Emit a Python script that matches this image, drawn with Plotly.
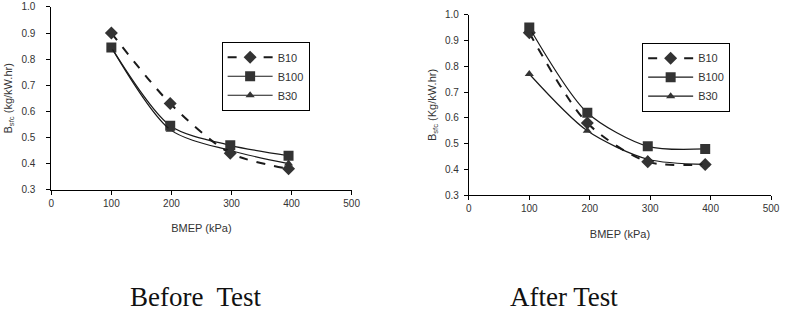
import plotly.graph_objects as go

# ---- data ----
bmep_before = [100, 198, 298, 395]
before_b10 = [0.90, 0.63, 0.44, 0.38]
before_b100 = [0.845, 0.545, 0.47, 0.43]
before_b30 = [0.845, 0.53, 0.45, 0.40]

bmep_after = [100, 196, 296, 391]
after_b10 = [0.93, 0.58, 0.43, 0.42]
after_b100 = [0.95, 0.62, 0.49, 0.48]
after_b30 = [0.77, 0.55, 0.44, 0.42]

x_ticks = [0, 100, 200, 300, 400, 500]
y_ticks = [0.3, 0.4, 0.5, 0.6, 0.7, 0.8, 0.9, 1.0]
names_before = ["B10", "B100", "B30"]
names_after = ["B10", "B100", "B30"]

fig = go.Figure()
C = "#1a1a1a"
SANS = "Liberation Sans, Arial"


def add_set(xs, ys_list, names, xa, ya, leg):
    styles = [("dash", "diamond", 2), ("solid", "square", 1.2), ("solid", "triangle-up", 1.2)]
    sizes = [10, 10, 8]
    for ys, nm, (dash, sym, w), sz in zip(ys_list, names, styles, sizes):
        fig.add_trace(go.Scatter(
            x=xs, y=ys, name=nm, mode="lines+markers",
            line=dict(color=C, width=w, dash=dash, shape="spline", smoothing=0.8),
            marker=dict(symbol=sym, size=sz, color="#333333"),
            xaxis=xa, yaxis=ya, legend=leg))


add_set(bmep_before, [before_b10, before_b100, before_b30], names_before, "x", "y", "legend")
add_set(bmep_after, [after_b10, after_b100, after_b30], names_after, "x2", "y2", "legend2")

axis_common = dict(showgrid=False, zeroline=False, showline=True, linecolor="black",
                   linewidth=1, ticks="outside", ticklen=4, tickcolor="black",
                   tickfont=dict(family=SANS, size=10, color="#333"))

legend_common = dict(xanchor="left", yanchor="top",
                     bordercolor="black", borderwidth=1, bgcolor="white",
                     font=dict(family=SANS, size=11, color="#333"),
                     tracegroupgap=2, itemwidth=45)

fig.update_layout(
    width=791, height=330, margin=dict(l=0, r=0, t=0, b=0),
    paper_bgcolor="white", plot_bgcolor="white",
    xaxis=dict(domain=[0.062, 0.4475], range=[0, 500], tickvals=x_ticks,
               anchor="y", **axis_common,
               title=dict(text="BMEP (kPa)", font=dict(family=SANS, size=11, color="#333"), standoff=16)),
    yaxis=dict(domain=[0.421, 0.994], range=[0.3, 1.0], tickvals=y_ticks,
               tickformat=".1f", anchor="x", ticklabelstandoff=9, **axis_common,
               title=dict(text="B<sub>sfc</sub> (kg/kW.hr)", font=dict(family=SANS, size=11, color="#333"), standoff=6)),
    xaxis2=dict(domain=[0.598, 0.986], range=[0, 500], tickvals=x_ticks,
                anchor="y2", **axis_common,
                title=dict(text="BMEP (kPa)", font=dict(family=SANS, size=11, color="#333"), standoff=16)),
    yaxis2=dict(domain=[0.403, 0.970], range=[0.3, 1.0], tickvals=y_ticks,
                tickformat=".1f", anchor="x2", ticklabelstandoff=3, **axis_common,
                title=dict(text="B<sub>sfc</sub> (Kg/kW.hr)", font=dict(family=SANS, size=11, color="#333"), standoff=6)),
    legend=dict(x=222/791, y=1-38/330, **legend_common),
    legend2=dict(x=649/791, y=1-39/330, **legend_common),
    annotations=[
        dict(text="Before  Test", x=196/791, y=1-302/330, xref="paper", yref="paper",
             xanchor="center", yanchor="middle", showarrow=False,
             font=dict(family="Liberation Serif, Times New Roman", size=27, color="#111")),
        dict(text="After Test", x=570/791, y=1-302/330, xref="paper", yref="paper",
             xanchor="center", yanchor="middle", showarrow=False,
             font=dict(family="Liberation Serif, Times New Roman", size=27, color="#111")),
    ],
)

fig.write_html("out.html")
